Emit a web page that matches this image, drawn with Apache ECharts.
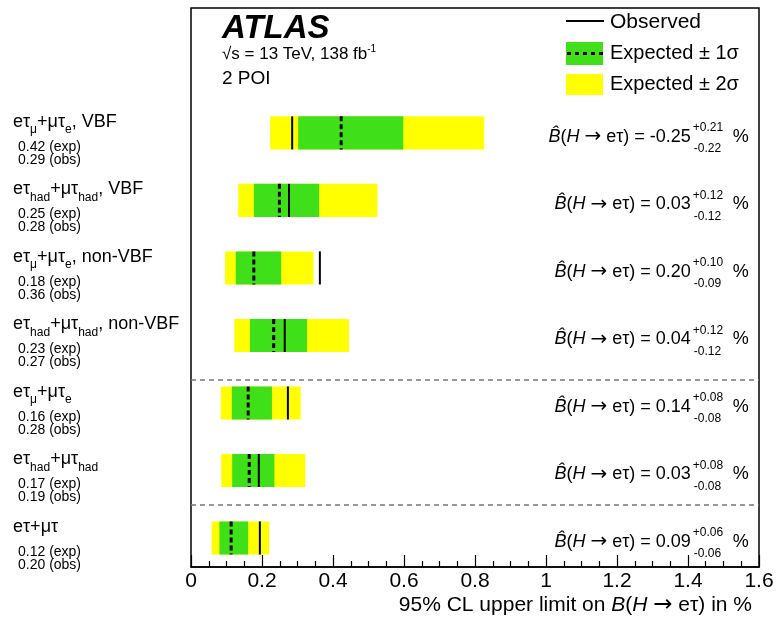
<!DOCTYPE html>
<html><head><meta charset="utf-8">
<script src="https://cdn.jsdelivr.net/npm/echarts@6/dist/echarts.min.js"></script>
<style>html,body{margin:0;padding:0;background:#fff}#c{width:782px;height:620px}</style>
</head><body><div id="c"></div>
<script>
// ---------- data ----------
const channels = ['eτ_{μ}+μτ_{e}, VBF', 'eτ_{had}+μτ_{had}, VBF', 'eτ_{μ}+μτ_{e}, non-VBF',
  'eτ_{had}+μτ_{had}, non-VBF', 'eτ_{μ}+μτ_{e}', 'eτ_{had}+μτ_{had}', 'eτ+μτ'];
const expLimit = [0.423, 0.249, 0.177, 0.233, 0.161, 0.164, 0.113];
const obsLimit = [0.285, 0.276, 0.363, 0.264, 0.273, 0.191, 0.194];
const expLabel = ['0.42', '0.25', '0.18', '0.23', '0.16', '0.17', '0.12'];
const obsLabel = ['0.29', '0.28', '0.36', '0.27', '0.28', '0.19', '0.20'];
const band1Lo = [0.302, 0.177, 0.126, 0.166, 0.115, 0.116, 0.080];
const band1Hi = [0.598, 0.361, 0.254, 0.327, 0.228, 0.235, 0.161];
const band2Lo = [0.223, 0.133, 0.096, 0.122, 0.084, 0.085, 0.058];
const band2Hi = [0.826, 0.525, 0.345, 0.445, 0.309, 0.322, 0.220];
const bestFit = ['-0.25', '0.03', '0.20', '0.04', '0.14', '0.03', '0.09'];
const errUp = ['+0.21', '+0.12', '+0.10', '+0.12', '+0.08', '+0.08', '+0.06'];
const errDown = ['-0.22', '-0.12', '-0.09', '-0.12', '-0.08', '-0.08', '-0.06'];

// ---------- layout constants ----------
const FONT = '"Liberation Sans", Arial, Helvetica, sans-serif';
const ARROW_FONT = '"DejaVu Sans", sans-serif';
const N = channels.length;
const ROW_OFFSET = 0.43;
const BAR_H = 0.49;
const rowPos = i => (N - 1 - i) + ROW_OFFSET;
const sepPos = [2.77, 0.92];
const GREEN = '#3fe01a', YELLOW = '#ffff00';

function richLabel(s) {
  const parts = s.split(/_\{([^}]*)\}/);
  return parts.map((p, k) => p === '' ? '' : (k % 2 ? '{s|' + p + '}' : '{m|' + p + '}')).join('');
}

const chart = echarts.init(document.getElementById('c'), null, {renderer: 'canvas'});

function bandSeries(name, lo, hi, color, z) {
  return {
    type: 'custom', name: name, z: z, clip: false,
    data: channels.map((c, i) => [lo[i], hi[i], rowPos(i)]),
    encode: {x: [0, 1], y: 2},
    renderItem: (params, api) => {
      const a = api.coord([api.value(0), api.value(2)]);
      const b = api.coord([api.value(1), api.value(2)]);
      const h = api.size([0, BAR_H])[1];
      return {type: 'rect', shape: {x: a[0], y: a[1] - h / 2, width: b[0] - a[0], height: h},
        style: {fill: color}};
    }
  };
}
function lineSeries(name, vals, dash, width, z) {
  return {
    type: 'custom', name: name, z: z, clip: false,
    data: channels.map((c, i) => [vals[i], rowPos(i)]),
    encode: {x: 0, y: 1},
    renderItem: (params, api) => {
      const p = api.coord([api.value(0), api.value(1)]);
      const h = api.size([0, BAR_H])[1];
      return {type: 'line', shape: {x1: p[0], y1: p[1] - h / 2, x2: p[0], y2: p[1] + h / 2},
        style: {stroke: '#000', lineWidth: width, lineDash: dash}};
    }
  };
}

const band2 = bandSeries('Expected ± 2σ', band2Lo, band2Hi, YELLOW, 2);
band2.markLine = {
  silent: true, symbol: 'none', label: {show: false}, animation: false,
  lineStyle: {color: '#777', type: [5, 4], width: 1.5},
  data: sepPos.map(v => ({yAxis: v}))
};

const textSeries = {
  type: 'custom', name: 'texts', z: 10, clip: false, silent: true,
  data: channels.map((c, i) => [1.408, rowPos(i), i]),
  encode: {x: 0, y: 1},
  renderItem: (params, api) => {
    const i = api.value(2);
    const p = api.coord([api.value(0), api.value(1)]);
    const c = p[1];
    return {type: 'group', children: [
      {type: 'text', x: p[0], y: c + 4, style: {
        text: '{b|B̂}({b|H} {a|→} eτ) = ' + bestFit[i],
        font: '18px ' + FONT, fill: '#000', align: 'right', verticalAlign: 'middle',
        rich: {b: {fontStyle: 'italic', fontSize: 18, fontFamily: FONT},
               a: {fontSize: 20, fontFamily: ARROW_FONT}}}},
      {type: 'text', x: p[0] + 2, y: c - 5, style: {text: errUp[i], font: '12px ' + FONT,
        fill: '#000', align: 'left', verticalAlign: 'middle'}},
      {type: 'text', x: p[0] + 3, y: c + 16, style: {text: errDown[i], font: '12px ' + FONT,
        fill: '#000', align: 'left', verticalAlign: 'middle'}},
      {type: 'text', x: p[0] + 42, y: c + 4, style: {text: '%', font: '18px ' + FONT,
        fill: '#000', align: 'left', verticalAlign: 'middle'}},
      // left labels
      {type: 'text', x: 13, y: c - 11, style: {text: richLabel(channels[i]), fill: '#000',
        align: 'left', verticalAlign: 'middle',
        rich: {m: {fontSize: 18, fontFamily: FONT, lineHeight: 28, verticalAlign: 'middle'},
               s: {fontSize: 12, fontFamily: FONT, lineHeight: 11, verticalAlign: 'bottom'}}}},
      {type: 'text', x: 18, y: c + 14, style: {text: expLabel[i] + ' (exp)', font: '14px ' + FONT,
        fill: '#000', align: 'left', verticalAlign: 'middle'}},
      {type: 'text', x: 18, y: c + 27, style: {text: obsLabel[i] + ' (obs)', font: '14px ' + FONT,
        fill: '#000', align: 'left', verticalAlign: 'middle'}}
    ]};
  }
};

const option = {
  animation: false,
  backgroundColor: '#fff',
  grid: {left: 191, right: 23, top: 8, bottom: 53, show: true, borderColor: '#000', borderWidth: 1.5,
    containLabel: false, outerBoundsMode: 'none'},
  xAxis: {
    type: 'value', min: 0, max: 1.6, interval: 0.2,
    axisLine: {show: true, lineStyle: {color: '#000', width: 1.5}},
    axisTick: {show: true, inside: true, length: 12, lineStyle: {color: '#000', width: 1.2}},
    minorTick: {show: true, splitNumber: 4, length: 6, lineStyle: {color: '#000', width: 1.2}},
    splitLine: {show: false},
    axisLabel: {color: '#000', fontSize: 21, fontFamily: FONT, margin: 4},
    name: '95% CL upper limit on {i|B}({i|H} {a|→} eτ) in %',
    nameLocation: 'end', nameGap: -7, nameMoveOverlap: false,
    nameTextStyle: {color: '#000', fontSize: 21, fontFamily: FONT, align: 'right', verticalAlign: 'top',
      padding: [27, 0, 0, 0], rich: {i: {fontStyle: 'italic', fontSize: 21, fontFamily: FONT},
        a: {fontSize: 23, fontFamily: ARROW_FONT}}}
  },
  yAxis: {type: 'value', min: 0, max: 8.28, show: false},
  graphic: [
    {type: 'text', left: 222, top: 12, style: {text: 'ATLAS', font: 'italic bold 33px ' + FONT, fill: '#000'}},
    {type: 'text', left: 222, top: 44, style: {text: '√s = 13 TeV, 138 fb{sup|-1}', fill: '#000',
      font: '17px ' + FONT,
      rich: {sup: {fontSize: 10, fontFamily: FONT, verticalAlign: 'top', lineHeight: 20}}}},
    {type: 'text', left: 222, top: 69, style: {text: '2 POI', font: '19px ' + FONT, fill: '#000'}},
    // legend
    {type: 'line', shape: {x1: 566, y1: 21, x2: 604, y2: 21}, style: {stroke: '#000', lineWidth: 2}},
    {type: 'rect', shape: {x: 566, y: 42, width: 37, height: 23}, style: {fill: GREEN}},
    {type: 'line', shape: {x1: 567, y1: 53.5, x2: 603, y2: 53.5}, style: {stroke: '#000', lineWidth: 3, lineDash: [4, 4]}},
    {type: 'rect', shape: {x: 566, y: 74, width: 37, height: 21}, style: {fill: YELLOW}},
    {type: 'text', x: 610, y: 22, style: {text: 'Observed', font: '21px ' + FONT, fill: '#000', verticalAlign: 'middle'}},
    {type: 'text', x: 610, y: 53, style: {text: 'Expected ± 1σ', font: '20px ' + FONT, fill: '#000', verticalAlign: 'middle'}},
    {type: 'text', x: 610, y: 84, style: {text: 'Expected ± 2σ', font: '20px ' + FONT, fill: '#000', verticalAlign: 'middle'}}
  ],
  series: [
    band2,
    bandSeries('Expected ± 1σ', band1Lo, band1Hi, GREEN, 3),
    lineSeries('Expected', expLimit, [5, 3], 3, 4),
    lineSeries('Observed', obsLimit, null, 2, 5),
    textSeries
  ]
};
chart.setOption(option);
</script>
</body></html>
